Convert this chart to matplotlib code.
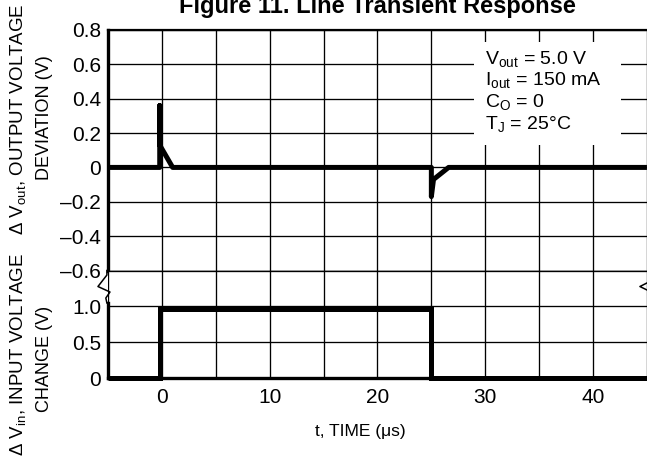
import matplotlib
matplotlib.use("Agg")
import matplotlib.pyplot as plt
from matplotlib.patches import Rectangle

plt.rcParams["font.family"] = ["Liberation Sans", "DejaVu Sans"]
plt.rcParams["mathtext.fontset"] = "custom"
plt.rcParams["mathtext.rm"] = "Liberation Sans"

# output voltage deviation trace (us, V)
t_out = [-5, -0.2, -0.2, -0.2, 1.0, 25, 25, 25.2, 26.6, 45]
v_out = [0, 0, 0.36, 0.13, 0, 0, -0.17, -0.07, 0, 0]

# input voltage step (us, V)
t_in = [-5, -0.2, -0.2, 25, 25, 45]
v_in = [0, 0, 0.96, 0.96, 0, 0]

out_ticks = [0.8, 0.6, 0.4, 0.2, 0, -0.2, -0.4, -0.6]
out_labels = ["0.8", "0.6", "0.4", "0.2", "0", "–0.2", "–0.4", "–0.6"]
in_ticks = [0, 0.5, 1.0]
in_labels = ["0", "0.5", "1.0"]
t_grid = list(range(-5, 46, 5))
t_labels = ["" if t % 10 else str(t) for t in t_grid]

conditions = [
    r"V$_{\rm out}$ = 5.0 V",
    r"I$_{\rm out}$ = 150 mA",
    r"C$_{\rm O}$ = 0",
    r"T$_{\rm J}$ = 25°C",
]

fig = plt.figure(figsize=(6.47, 4.62), dpi=100)
ax1 = fig.add_axes([0.1669, 0.4145, 0.833, 0.5206])
ax2 = fig.add_axes([0.1669, 0.1818, 0.833, 0.2327])

for ax in (ax1, ax2):
    ax.set_xlim(-5, 45)
    ax.set_xticks(t_grid)
    ax.grid(True, color="black", lw=0.95)
    ax.tick_params(length=0, labelsize=15)
    ax.tick_params(axis="y", pad=5)
    ax.spines["right"].set_visible(False)
    ax.spines["left"].set_linewidth(2.4)

ax1.set_ylim(-0.6, 0.8)
ax1.set_yticks(out_ticks)
ax1.set_yticklabels(out_labels)
ax1.set_xticklabels([])
ax1.spines["top"].set_linewidth(1.6)
ax1.spines["bottom"].set_linewidth(0.95)

ax2.set_ylim(0, 1.5)
ax2.set_yticks(in_ticks)
ax2.set_yticklabels(in_labels)
ax2.set_xticklabels(t_labels)
ax2.tick_params(axis="x", pad=7)
ax2.spines["top"].set_linewidth(0.95)
ax2.spines["bottom"].set_linewidth(2.4)
ax2.spines["left"].set_bounds(0, 1.05)
ax2.set_xlabel("t, TIME (μs)", fontsize=12.5, va="center")
ax2.xaxis.set_label_coords(0.4675, -0.5)

ax1.plot(t_out, v_out, color="black", lw=3.6, solid_capstyle="butt", zorder=5, clip_on=False)
ax2.plot(t_in, v_in, color="black", lw=3.6, solid_capstyle="butt",
         solid_joinstyle="miter", zorder=5, clip_on=False)

# axis break marks
ax2.plot([-0.002, -0.002, -0.0186, 0.0037, -0.004, -0.002],
         [1.0, 0.958, 0.851, 0.8, 0.744, 0.698],
         transform=ax2.transAxes, color="black", lw=1.1, clip_on=False)
ax2.plot([1.0, 0.987, 1.0], [0.884, 0.851, 0.819],
         transform=ax2.transAxes, color="black", lw=1.1, clip_on=False)

# conditions box
ax1.add_patch(Rectangle((29, 0.13), 13.6, 0.6, facecolor="white", edgecolor="none", zorder=3))
for i, line in enumerate(conditions):
    ax1.text(30, 0.6 - i * 0.127, line, fontsize=14, va="baseline", ha="left", zorder=4)

fig.text(0.5835, 0.972, "Figure 11. Line Transient Response", fontsize=17,
         fontweight="bold", ha="center", va="baseline")

# y axis titles, two lines each
ylab = dict(rotation=90, ha="center", va="center")
fig.text(0.0286, 0.743, "Δ V$_{\\rm out}$, OUTPUT VOLTAGE", fontsize=13.5, **ylab)
fig.text(0.069, 0.745, "DEVIATION (V)", fontsize=13, **ylab)
fig.text(0.0286, 0.232, "Δ V$_{\\rm in}$, INPUT VOLTAGE", fontsize=13.5, **ylab)
fig.text(0.069, 0.223, "CHANGE (V)", fontsize=13, **ylab)

fig.savefig("out.png", dpi=100)
